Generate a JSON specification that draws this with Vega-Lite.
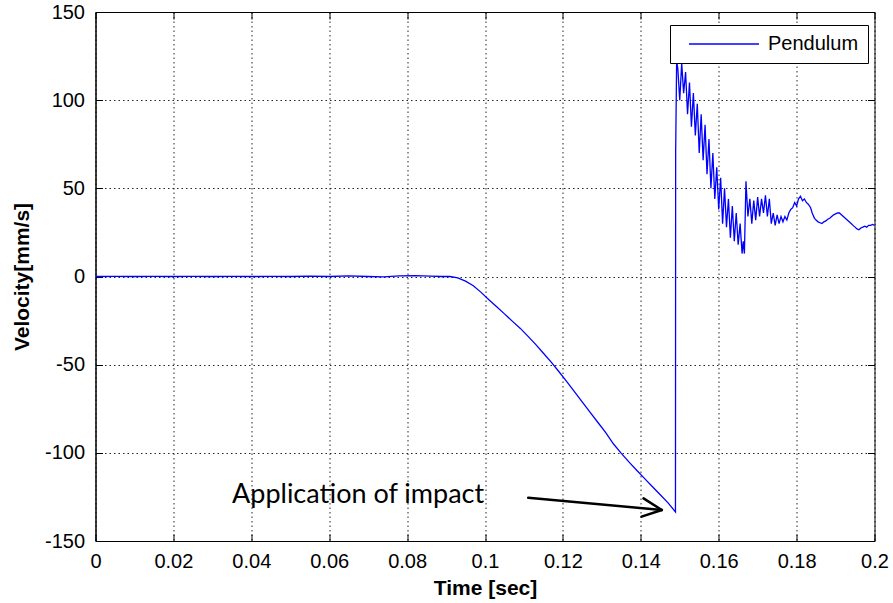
{
  "$schema": "https://vega.github.io/schema/vega-lite/v6.json",
  "width": 779,
  "height": 529,
  "autosize": {"type": "none"},
  "padding": {"left": 95.5, "top": 12, "right": 18.5, "bottom": 62},
  "background": "white",
  "config": {
    "view": {"stroke": "#000", "strokeWidth": 1},
    "font": "Liberation Sans",
    "axis": {
      "labelFont": "Liberation Sans",
      "labelFontSize": 20,
      "labelColor": "#000",
      "titleFont": "Liberation Sans",
      "titleFontSize": 21,
      "titleFontWeight": "bold",
      "titleColor": "#000",
      "domainColor": "#000",
      "tickColor": "#000",
      "tickSize": -7,
      "gridColor": "#000",
      "gridDash": [1.5, 3],
      "gridOpacity": 0.85,
      "gridWidth": 1
    }
  },
  "layer": [
    {
      "layer": [
        {
          "data": {"values": [
            {"t":0,"v":0},{"t":0.005,"v":0.1},{"t":0.01,"v":0},{"t":0.015,"v":0.1},{"t":0.02,"v":0},{"t":0.025,"v":0.1},{"t":0.03,"v":0},{"t":0.035,"v":0.1},{"t":0.04,"v":0},{"t":0.045,"v":0.1},{"t":0.05,"v":0},{"t":0.055,"v":0.2},{"t":0.06,"v":0},{"t":0.065,"v":0.3},{"t":0.07,"v":0},{"t":0.074,"v":-0.2},{"t":0.078,"v":0.4},{"t":0.082,"v":0.5},{"t":0.086,"v":0.2},{"t":0.089,"v":0},{"t":0.091,"v":0},
            {"t":0.093,"v":-0.8},{"t":0.095,"v":-2.6},{"t":0.097,"v":-5.2},{"t":0.099,"v":-9},{"t":0.101,"v":-13.2},{"t":0.103,"v":-17.2},{"t":0.105,"v":-21.2},{"t":0.107,"v":-25.3},{"t":0.109,"v":-29.3},{"t":0.111,"v":-33.8},{"t":0.113,"v":-38.5},{"t":0.115,"v":-43.5},{"t":0.117,"v":-48.6},{"t":0.119,"v":-54},{"t":0.121,"v":-59.6},{"t":0.123,"v":-65.4},{"t":0.125,"v":-71.2},{"t":0.127,"v":-77},{"t":0.129,"v":-82.8},{"t":0.131,"v":-88.6},{"t":0.133,"v":-95},{"t":0.135,"v":-100.3},{"t":0.137,"v":-105.3},{"t":0.139,"v":-110},{"t":0.141,"v":-114.6},{"t":0.143,"v":-119.2},{"t":0.145,"v":-123.8},{"t":0.147,"v":-128.4},{"t":0.1489,"v":-133.5},
            {"t":0.14895,"v":70},{"t":0.1492,"v":122},{"t":0.1495,"v":118},{"t":0.15,"v":100},{"t":0.1505,"v":121},{"t":0.151,"v":104},{"t":0.1515,"v":116},{"t":0.152,"v":92},{"t":0.1525,"v":110},{"t":0.153,"v":85},{"t":0.1535,"v":104},{"t":0.154,"v":80},{"t":0.1545,"v":98},{"t":0.155,"v":70},{"t":0.1555,"v":92},{"t":0.156,"v":66},{"t":0.1565,"v":86},{"t":0.157,"v":58},{"t":0.1575,"v":78},{"t":0.158,"v":50},{"t":0.1585,"v":70},{"t":0.159,"v":44},{"t":0.1595,"v":62},{"t":0.16,"v":38},{"t":0.1605,"v":56},{"t":0.161,"v":30},{"t":0.1615,"v":50},{"t":0.162,"v":28},{"t":0.1625,"v":44},{"t":0.163,"v":22},{"t":0.1635,"v":40},{"t":0.164,"v":20},{"t":0.1645,"v":36},{"t":0.165,"v":18},{"t":0.1655,"v":30},{"t":0.166,"v":13},{"t":0.1663,"v":20},{"t":0.1666,"v":13},{"t":0.167,"v":54},{"t":0.1675,"v":34},{"t":0.168,"v":44},{"t":0.1685,"v":30},{"t":0.169,"v":43},{"t":0.1695,"v":32},{"t":0.17,"v":45},{"t":0.1705,"v":34},{"t":0.171,"v":44},{"t":0.1715,"v":36},{"t":0.172,"v":46},{"t":0.1725,"v":34},{"t":0.173,"v":44},{"t":0.1735,"v":30},{"t":0.174,"v":36},{"t":0.1745,"v":29},{"t":0.175,"v":35},{"t":0.1755,"v":30},{"t":0.176,"v":34},{"t":0.1765,"v":31},{"t":0.177,"v":34},{"t":0.1775,"v":32},{"t":0.178,"v":36},{"t":0.1785,"v":38},{"t":0.179,"v":39},{"t":0.1795,"v":42},{"t":0.18,"v":40},{"t":0.1805,"v":44},{"t":0.181,"v":45.5},{"t":0.1815,"v":43},{"t":0.182,"v":44},{"t":0.1825,"v":42},{"t":0.183,"v":41},{"t":0.1836,"v":39},{"t":0.184,"v":36},{"t":0.1846,"v":33},{"t":0.185,"v":32},{"t":0.1855,"v":31},{"t":0.186,"v":30.5},{"t":0.1865,"v":30},{"t":0.187,"v":31},{"t":0.1875,"v":31.5},{"t":0.188,"v":32.5},{"t":0.1885,"v":33},{"t":0.189,"v":34},{"t":0.1895,"v":35},{"t":0.19,"v":35.5},{"t":0.1905,"v":36},{"t":0.191,"v":36},{"t":0.1915,"v":35},{"t":0.192,"v":34},{"t":0.1925,"v":33},{"t":0.193,"v":32},{"t":0.1935,"v":31},{"t":0.194,"v":30},{"t":0.1945,"v":29},{"t":0.195,"v":28},{"t":0.1955,"v":27},{"t":0.196,"v":26.5},{"t":0.1965,"v":27.5},{"t":0.197,"v":28},{"t":0.1975,"v":28.5},{"t":0.198,"v":28},{"t":0.1985,"v":29},{"t":0.199,"v":29},{"t":0.1995,"v":29.5},{"t":0.2,"v":29}
          ]},
          "mark": {"type": "line", "strokeWidth": 1.3, "clip": true},
          "encoding": {
            "x": {
              "field": "t", "type": "quantitative",
              "scale": {"domain": [0, 0.2], "nice": false, "zero": false},
              "axis": {"title": "Time [sec]", "values": [0,0.02,0.04,0.06,0.08,0.1,0.12,0.14,0.16,0.18,0.2], "labelExpr": "toString(datum.value)", "grid": true, "labelPadding": 17, "titlePadding": 6, "labelFlush": false}
            },
            "y": {
              "field": "v", "type": "quantitative",
              "scale": {"domain": [-150, 150], "nice": false, "zero": false},
              "axis": {"title": "Velocity[mm/s]", "values": [-150,-100,-50,0,50,100,150], "labelExpr": "toString(datum.value)", "grid": true, "labelPadding": 18, "titlePadding": 12}
            },
            "color": {
              "datum": "Pendulum", "type": "nominal",
              "scale": {"range": ["#0000ff"]},
              "legend": {
                "title": null, "orient": "none", "legendX": 574.5, "legendY": 13,
                "symbolType": "M0,0H10", "symbolSize": 196, "symbolStrokeWidth": 1.3,
                "labelFont": "Liberation Sans", "labelFontSize": 20, "labelColor": "#000",
                "strokeColor": "#000", "fillColor": "#fff", "padding": 9, "labelOffset": 69
              }
            }
          }
        },
        {
          "data": {"values": [{"t": 0.03505, "v": -128.6, "label": "Application of impact"}]},
          "mark": {"type": "text", "align": "left", "baseline": "alphabetic", "font": "Lato", "fontSize": 27, "color": "#000"},
          "encoding": {
            "x": {"field": "t", "type": "quantitative"},
            "y": {"field": "v", "type": "quantitative"},
            "text": {"field": "label"}
          }
        },
        {
          "data": {"values": [
            {"t": 0.1111, "v": -125.5, "t2": 0.1454, "v2": -132.4},
            {"t": 0.1407, "v": -125.8, "t2": 0.1454, "v2": -132.4},
            {"t": 0.1402, "v": -136.2, "t2": 0.1454, "v2": -132.4}
          ]},
          "mark": {"type": "rule", "strokeWidth": 2.5, "color": "#000", "strokeCap": "round"},
          "encoding": {
            "x": {"field": "t", "type": "quantitative"},
            "y": {"field": "v", "type": "quantitative"},
            "x2": {"field": "t2"},
            "y2": {"field": "v2"}
          }
        }
      ]
    },
    {
      "data": {"values": [{"t": 0, "v": -150}, {"t": 0.2, "v": 150}]},
      "mark": {"type": "point", "opacity": 0},
      "encoding": {
        "x": {
          "field": "t", "type": "quantitative",
          "scale": {"domain": [0, 0.2], "nice": false, "zero": false},
          "axis": {"orient": "top", "labels": false, "title": null, "grid": false, "domain": false, "values": [0,0.02,0.04,0.06,0.08,0.1,0.12,0.14,0.16,0.18,0.2]}
        },
        "y": {
          "field": "v", "type": "quantitative",
          "scale": {"domain": [-150, 150], "nice": false, "zero": false},
          "axis": {"orient": "right", "labels": false, "title": null, "grid": false, "domain": false, "values": [-150,-100,-50,0,50,100,150]}
        }
      }
    }
  ],
  "resolve": {"scale": {"x": "independent", "y": "independent"}}
}
